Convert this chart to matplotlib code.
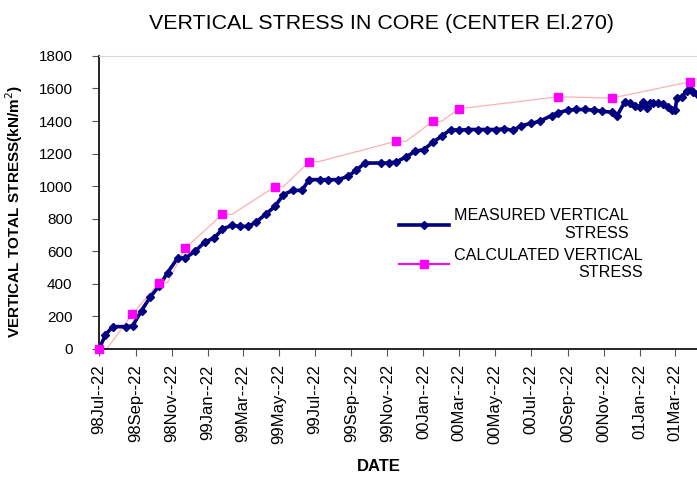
import numpy as np
import matplotlib
matplotlib.use("Agg")
import matplotlib.pyplot as plt
import matplotlib.dates as mdates
from matplotlib.lines import Line2D

plt.rcParams['font.family'] = ['Liberation Sans', 'DejaVu Sans']

# days counted from 1998-07-22
start = np.datetime64('1998-07-22')

meas_days = [0, 11, 23, 45, 57, 72, 87, 102, 116, 133, 146, 163, 179, 195, 209, 225,
             239, 253, 266, 282, 298, 312, 328, 343, 356, 374, 388, 405, 421, 435,
             450, 478, 490, 503, 520, 535, 550, 565, 580, 595, 609, 625, 641, 656,
             672, 686, 701, 715, 731, 746, 766, 777, 793, 807, 822, 838, 852, 868,
             877, 890, 898, 907, 915, 921, 927, 932, 938, 946, 955, 963, 969, 975,
             978, 987, 995, 1001, 1006, 1012]
meas_vals = [0, 86, 137, 137, 141, 236, 320, 388, 468, 558, 558, 601, 657, 681, 737, 759,
             753, 753, 780, 827, 876, 948, 974, 974, 1040, 1040, 1040, 1040, 1060, 1097,
             1142, 1142, 1142, 1149, 1180, 1214, 1225, 1270, 1307, 1348, 1343, 1348, 1348, 1348,
             1348, 1352, 1343, 1372, 1385, 1399, 1434, 1450, 1467, 1471, 1471, 1467, 1460, 1454,
             1434, 1519, 1509, 1493, 1488, 1519, 1478, 1509, 1509, 1509, 1503, 1485, 1468, 1468,
             1540, 1550, 1587, 1595, 1580, 1566]

# calculated values (line passes through every entry, squares only on the first of each pair)
calc_line_days = [0, 13, 56, 102, 116, 146, 209, 225, 298, 312, 356, 371, 503, 520,
                  565, 580, 609, 777, 868, 1001]
calc_line_vals = [0, 0, 212, 408, 408, 619, 827, 827, 997, 997, 1150, 1150, 1276, 1276,
                  1399, 1399, 1475, 1549, 1541, 1642]
calc_days = [0, 56, 102, 146, 209, 298, 356, 503, 565, 609, 777, 868, 1001]
calc_vals = [0, 212, 408, 619, 827, 997, 1150, 1276, 1399, 1475, 1549, 1541, 1642]

meas_dates = start + np.array(meas_days).astype('timedelta64[D]')
calc_line_dates = start + np.array(calc_line_days).astype('timedelta64[D]')
calc_dates = start + np.array(calc_days).astype('timedelta64[D]')

fig = plt.figure(figsize=(6.97, 4.82), dpi=100)
ax = fig.add_axes([0.142, 0.276, 0.858, 0.608])

ax.plot(calc_line_dates, calc_line_vals, color='#FFB0B0', lw=0.9, zorder=2, clip_on=False)
ax.plot(calc_dates, calc_vals, ls='none', marker='s', ms=6, color='#FF00FF', zorder=4, clip_on=False)
ax.plot(meas_dates, meas_vals, color='#000080', lw=2.6, marker='D', ms=4, zorder=3, clip_on=False)

ax.set_ylim(0, 1800)
ax.set_yticks(range(0, 1801, 200))
ax.set_xlim(start, start + np.timedelta64(1012, 'D'))
ax.xaxis.set_major_locator(mdates.MonthLocator(bymonth=[1, 3, 5, 7, 9, 11], bymonthday=22))
ax.xaxis.set_major_formatter(mdates.DateFormatter('%y%b--%d'))
for lab in ax.get_xticklabels():
    lab.set_rotation(90)

ax.tick_params(axis='both', direction='out', length=5, width=0.8, color='#555555')
ax.tick_params(axis='y', labelsize=11, pad=14)
ax.tick_params(axis='x', labelsize=12, pad=6)
ax.spines['right'].set_visible(False)
ax.spines['top'].set_color('#D8D8D8')
ax.spines['left'].set_linewidth(1.2)
ax.spines['bottom'].set_linewidth(1.2)

ax.set_ylabel('VERTICAL TOTAL STRESS(kN/m$^2$)', fontsize=11, fontweight='bold')
ax.yaxis.set_label_coords(-0.124, 0.47)
fig.text(0.543, 0.022, 'DATE', fontsize=12, fontweight='bold', ha='center')
fig.text(0.548, 0.94, 'VERTICAL STRESS IN CORE (CENTER El.270)', fontsize=15.4, ha='center')

handles = [Line2D([], [], color='#000080', lw=2.6, marker='D', ms=4),
           Line2D([], [], color='#FF00FF', lw=1.5, marker='s', ms=6)]
leg = fig.legend(handles, ['MEASURED VERTICAL\nSTRESS', 'CALCULATED VERTICAL\nSTRESS'],
                 loc='upper left', bbox_to_anchor=(0.552, 0.598), frameon=False,
                 fontsize=11.6, handlelength=3.1, handletextpad=0.3, labelspacing=0.45)
for t in leg.get_texts():
    t.set_multialignment('right')

fig.savefig('out.png', dpi=100)
